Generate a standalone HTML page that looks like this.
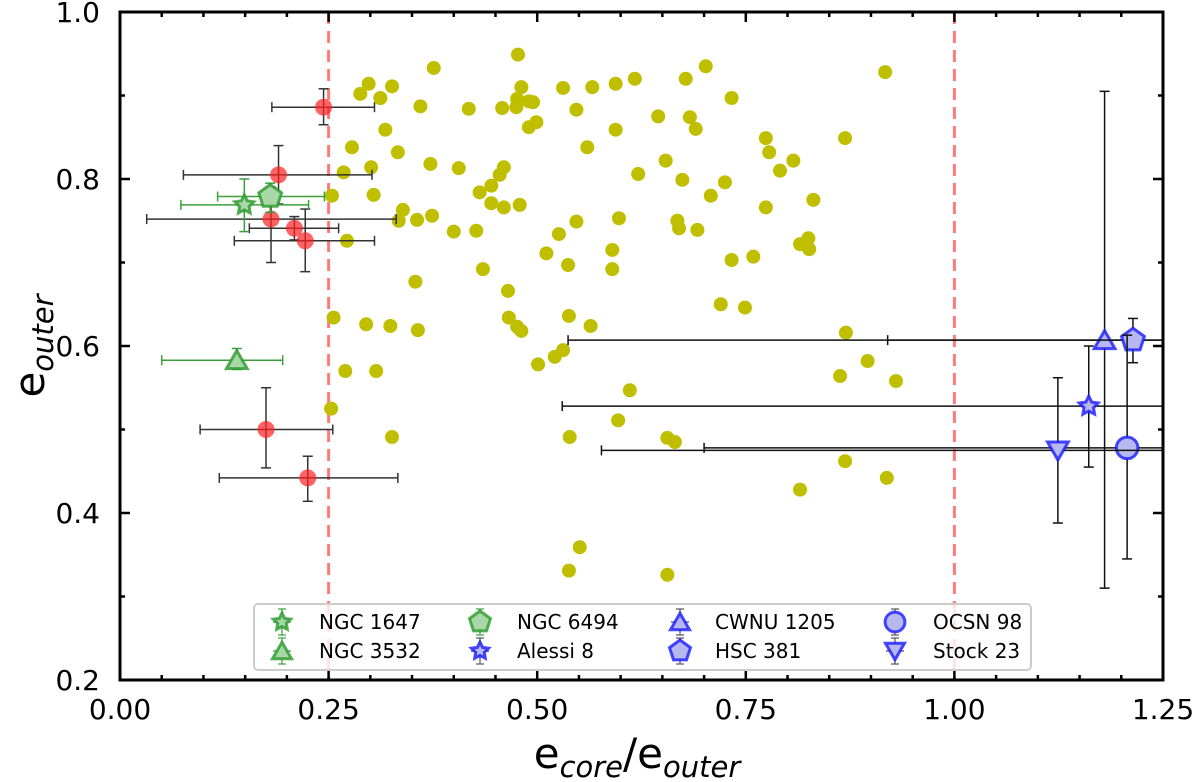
<!DOCTYPE html>
<html><head><meta charset="utf-8"><style>
html,body{margin:0;padding:0;background:#fff;}
svg{display:block;font-family:"DejaVu Sans","Liberation Sans",sans-serif;}
</style></head><body>
<svg id="chart" width="1200" height="782" viewBox="0 0 1200 782" xmlns="http://www.w3.org/2000/svg"></svg>
<script>
// ---- data ----
const fieldX = [0.477,0.376,0.298,0.326,0.288,0.312,0.360,0.418,0.458,0.476,0.475,0.490,0.495,0.481,0.531,0.566,0.594,0.617,0.547,0.490,0.499,0.594,0.318,0.278,0.333,0.560,0.268,0.301,0.372,0.406,0.460,0.455,0.621,0.254,0.304,0.445,0.431,0.445,0.460,0.479,0.339,0.334,0.356,0.374,0.400,0.427,0.272,0.547,0.598,0.526,0.511,0.590,0.537,0.590,0.435,0.354,0.465,0.256,0.295,0.324,0.357,0.466,0.476,0.481,0.538,0.564,0.531,0.521,0.501,0.270,0.307,0.702,0.678,0.917,0.733,0.645,0.683,0.690,0.774,0.778,0.869,0.654,0.807,0.791,0.674,0.725,0.708,0.774,0.831,0.668,0.670,0.692,0.825,0.815,0.826,0.733,0.759,0.720,0.749,0.870,0.896,0.863,0.930,0.611,0.253,0.597,0.326,0.539,0.656,0.665,0.869,0.919,0.815,0.551,0.538,0.656];
const fieldY = [0.949,0.933,0.914,0.911,0.902,0.897,0.887,0.884,0.885,0.896,0.886,0.893,0.892,0.910,0.909,0.910,0.914,0.920,0.883,0.862,0.868,0.859,0.859,0.838,0.832,0.838,0.808,0.814,0.818,0.813,0.814,0.805,0.806,0.780,0.781,0.792,0.784,0.771,0.766,0.769,0.763,0.750,0.751,0.756,0.737,0.738,0.726,0.749,0.753,0.734,0.711,0.715,0.697,0.692,0.692,0.677,0.666,0.634,0.626,0.624,0.619,0.634,0.623,0.618,0.636,0.624,0.595,0.587,0.578,0.570,0.570,0.935,0.920,0.928,0.897,0.875,0.874,0.860,0.849,0.832,0.849,0.822,0.822,0.810,0.799,0.796,0.780,0.766,0.775,0.750,0.741,0.739,0.729,0.722,0.716,0.703,0.707,0.650,0.646,0.616,0.582,0.564,0.558,0.547,0.525,0.511,0.491,0.491,0.490,0.485,0.462,0.442,0.428,0.359,0.331,0.326];

const redX  = [0.244,0.190,0.181,0.209,0.222,0.175,0.225];
const redY  = [0.886,0.805,0.752,0.741,0.726,0.500,0.442];
const redXlo= [0.182,0.076,0.032,0.155,0.137,0.096,0.119];
const redXhi= [0.305,0.302,0.331,0.262,0.305,0.255,0.333];
const redYlo= [0.865,0.770,0.700,0.727,0.689,0.454,0.414];
const redYhi= [0.908,0.840,0.790,0.755,0.764,0.550,0.468];

const clNames = ["NGC 1647","NGC 3532","NGC 6494","Alessi 8","CWNU 1205","HSC 381","OCSN 98","Stock 23"];
const clShape = ["star","tri","pent","star","tri","pent","circle","tridown"];
const clGroup = ["g","g","g","b","b","b","b","b"];
const clX   = [0.149,0.140,0.180,1.161,1.180,1.214,1.207,1.124];
const clY   = [0.769,0.583,0.779,0.528,0.607,0.607,0.478,0.475];
const clXlo = [0.073,0.050,0.117,0.530,0.537,0.920,0.700,0.577];
const clXhi = [0.226,0.195,0.245,1.400,1.400,1.400,1.400,1.400];
const clYlo = [0.737,0.572,0.760,0.455,0.310,0.580,0.345,0.388];
const clYhi = [0.800,0.597,0.795,0.600,0.905,0.633,0.613,0.562];

const xTicks = [0.00,0.25,0.50,0.75,1.00,1.25];
const xTickLabels = ["0.00","0.25","0.50","0.75","1.00","1.25"];
const yTicks = [0.2,0.4,0.6,0.8,1.0];
const yTickLabels = ["0.2","0.4","0.6","0.8","1.0"];
const vLines = [0.25,1.0];

// ---- axes ----
const L=120,R=1163,T=12,B=680;
const xMin=0,xMax=1.25,yMin=0.2,yMax=1.0;
const sx=v=>L+(v-xMin)/(xMax-xMin)*(R-L);
const sy=v=>B-(v-yMin)/(yMax-yMin)*(B-T);
const NS="http://www.w3.org/2000/svg";
const svg=document.getElementById('chart');
function mk(tag,attrs,parent){const e=document.createElementNS(NS,tag);for(const k in attrs)e.setAttribute(k,attrs[k]);(parent||svg).appendChild(e);return e;}

const defs=mk('defs',{});
const cp=mk('clipPath',{id:'clip'},defs);
mk('rect',{x:L,y:T,width:R-L,height:B-T},cp);
const plot=mk('g',{'clip-path':'url(#clip)'});



vLines.forEach((v,i)=>{
  const l=mk('line',{x1:sx(v),x2:sx(v),y1:T,y2:B,stroke:'#ff5a5a','stroke-opacity':0.8,'stroke-width':3,'stroke-dasharray':'12,7'},plot);
  
  
});

fieldX.forEach((v,i)=>{
  const c=mk('circle',{cx:sx(v),cy:sy(fieldY[i]),r:7,fill:'#bfbf00'},plot);
  
  
});

function errbar(g,x,y,xlo,xhi,ylo,yhi,col,w){
  const cap=5;
  mk('line',{x1:sx(xlo),x2:sx(xhi),y1:sy(y),y2:sy(y),stroke:col,'stroke-width':w},g);
  mk('line',{x1:sx(xlo),x2:sx(xlo),y1:sy(y)-cap,y2:sy(y)+cap,stroke:col,'stroke-width':w},g);
  mk('line',{x1:sx(xhi),x2:sx(xhi),y1:sy(y)-cap,y2:sy(y)+cap,stroke:col,'stroke-width':w},g);
  mk('line',{x1:sx(x),x2:sx(x),y1:sy(ylo),y2:sy(yhi),stroke:col,'stroke-width':w},g);
  mk('line',{x1:sx(x)-cap,x2:sx(x)+cap,y1:sy(ylo),y2:sy(ylo),stroke:col,'stroke-width':w},g);
  mk('line',{x1:sx(x)-cap,x2:sx(x)+cap,y1:sy(yhi),y2:sy(yhi),stroke:col,'stroke-width':w},g);
}

redX.forEach((v,i)=>{
  const g=mk('g',{},plot);
  
  
  errbar(g,v,redY[i],redXlo[i],redXhi[i],redYlo[i],redYhi[i],'#333',1.5);
  mk('circle',{cx:sx(v),cy:sy(redY[i]),r:8.5,fill:'#ff2020','fill-opacity':0.7},g);
});

function shapePath(s,cx,cy,r){
  let pts=[];
  if(s==='tri'){for(let k=0;k<3;k++){const a=-Math.PI/2+k*2*Math.PI/3;pts.push([cx+r*Math.cos(a),cy+r*Math.sin(a)+r*0.2]);}}
  else if(s==='tridown'){for(let k=0;k<3;k++){const a=Math.PI/2+k*2*Math.PI/3;pts.push([cx+r*Math.cos(a),cy+r*Math.sin(a)-r*0.2]);}}
  else if(s==='pent'){for(let k=0;k<5;k++){const a=-Math.PI/2+k*2*Math.PI/5;pts.push([cx+r*Math.cos(a),cy+r*Math.sin(a)]);}}
  else if(s==='star'){for(let k=0;k<10;k++){const a=-Math.PI/2+k*Math.PI/5;const rr=k%2?r*0.5:r;pts.push([cx+rr*Math.cos(a),cy+rr*Math.sin(a)]);}}
  return 'M'+pts.map(p=>p[0].toFixed(1)+','+p[1].toFixed(1)).join('L')+'Z';
}
function drawMarker(g,s,cx,cy,grp,r){
  const stroke=grp==='g'?'#2a9a2a':'#1a1aff';
  const fill=grp==='g'?'#a8d8a8':'#b8b8f0';
  if(s==='circle') mk('circle',{cx:cx,cy:cy,r:r*0.9,fill:fill,stroke:stroke,'stroke-width':3,'stroke-opacity':0.8},g);
  else mk('path',{d:shapePath(s,cx,cy,r),fill:fill,stroke:stroke,'stroke-width':3,'stroke-opacity':0.8},g);
}

clX.forEach((v,i)=>{
  const g=mk('g',{},plot);
  
  
  const col=clGroup[i]==='g'?'#3aa03a':'#111';
  errbar(g,v,clY[i],clXlo[i],clXhi[i],clYlo[i],clYhi[i],col,1.5);
  const r=clShape[i]==='star'?10:12;
  drawMarker(g,clShape[i],sx(v),sy(clY[i]),clGroup[i],r);
});

const ax=mk('g',{});


for(let k=0;k<=25;k++){
  const v=k*0.05, X=sx(v), maj=(k%5===0), len=maj?10:5;
  mk('line',{x1:X,x2:X,y1:B,y2:B-len,stroke:'#000','stroke-width':2.5},ax);
  mk('line',{x1:X,x2:X,y1:T,y2:T+len,stroke:'#000','stroke-width':2.5},ax);
}
for(let k=0;k<=8;k++){
  const v=0.2+k*0.1, Y=sy(v), maj=(k%2===0), len=maj?10:5;
  mk('line',{x1:L,x2:L+len,y1:Y,y2:Y,stroke:'#000','stroke-width':2.5},ax);
  mk('line',{x1:R,x2:R-len,y1:Y,y2:Y,stroke:'#000','stroke-width':2.5},ax);
}
mk('rect',{x:L,y:T,width:R-L,height:B-T,fill:'none',stroke:'#000','stroke-width':3},ax);

xTicks.forEach((v,i)=>{
  const t=mk('text',{x:sx(v),y:719,'text-anchor':'middle','font-size':28,fill:'#000'},ax);
  t.textContent=xTickLabels[i];
  
  
});
yTicks.forEach((v,i)=>{
  const t=mk('text',{x:100,y:sy(v)+10,'text-anchor':'end','font-size':28,fill:'#000'},ax);
  t.textContent=yTickLabels[i];
  
  
});

const xt=mk('text',{x:637,y:768,'text-anchor':'middle','font-size':42,fill:'#000'});


xt.innerHTML='e<tspan font-size="29" font-style="italic" dy="9">core</tspan><tspan dy="-9">/e</tspan><tspan font-size="29" font-style="italic" dy="9">outer</tspan>';
const yt=mk('text',{x:0,y:0,'text-anchor':'middle','font-size':42,fill:'#000',transform:'translate(44,346) rotate(-90)'});


yt.innerHTML='e<tspan font-size="29" font-style="italic" dy="9">outer</tspan>';

const lg=mk('g',{});


mk('rect',{x:254,y:604,width:777,height:66,rx:4,fill:'#fff','fill-opacity':0.8,stroke:'#ccc','stroke-width':2},lg);
const colMX=[282,480,680,895], colTX=[319,517,715,933], rowY=[622,651];
const order=[[0,1],[2,3],[4,5],[6,7]];
order.forEach((pair,c)=>pair.forEach((idx,r)=>{
  const e=mk('g',{},lg);
  
  
  const col=clGroup[idx]==='g'?'#3aa03a':'#555';
  mk('line',{x1:colMX[c]-9,x2:colMX[c]+9,y1:rowY[r],y2:rowY[r],stroke:col,'stroke-width':1.2},e);
  mk('line',{x1:colMX[c],x2:colMX[c],y1:rowY[r]-13,y2:rowY[r]+13,stroke:col,'stroke-width':1.2},e);
  mk('line',{x1:colMX[c]-4,x2:colMX[c]+4,y1:rowY[r]-13,y2:rowY[r]-13,stroke:col,'stroke-width':1.2},e);
  mk('line',{x1:colMX[c]-4,x2:colMX[c]+4,y1:rowY[r]+13,y2:rowY[r]+13,stroke:col,'stroke-width':1.2},e);
  drawMarker(e,clShape[idx],colMX[c],rowY[r],clGroup[idx],clShape[idx]==='star'?9:11);
  const t=mk('text',{x:colTX[c],y:rowY[r]+7,'font-size':20,fill:'#000'},e);
  t.textContent=clNames[idx];
}));
</script>
</body></html>
